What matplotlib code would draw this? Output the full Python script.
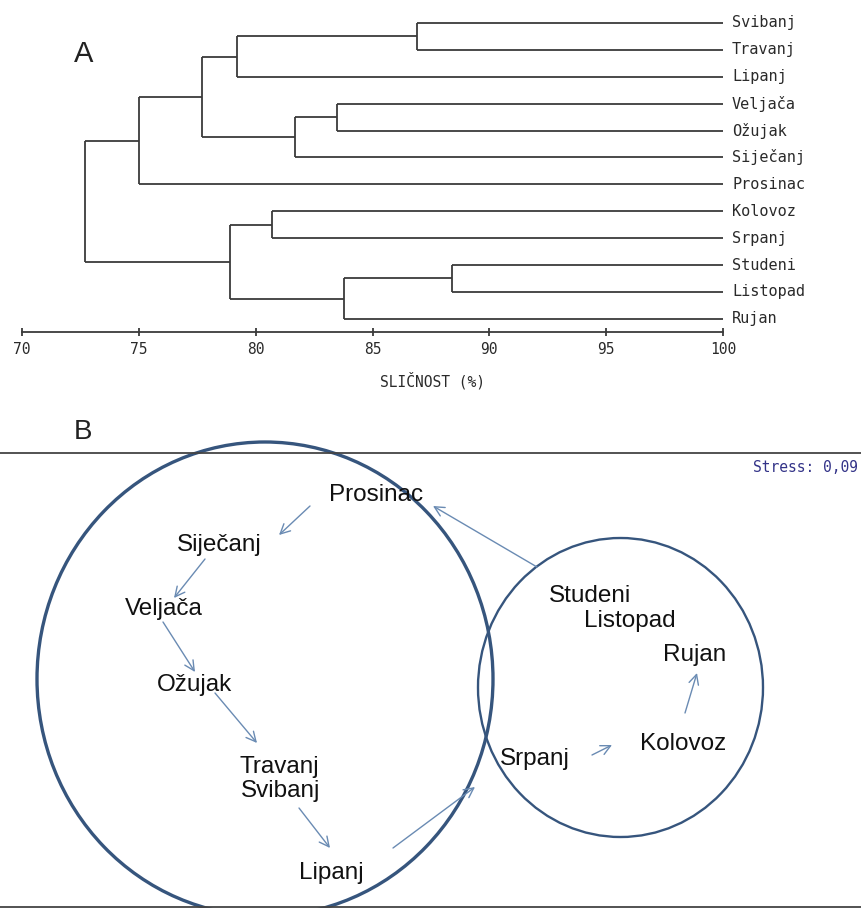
"""Dendrogram (A) and MDS ordination (B) of monthly samples."""

import matplotlib
matplotlib.use("Agg")
import matplotlib.pyplot as plt
from matplotlib.patches import Ellipse

# --- panel A: dendrogram (similarity %) ---
leaves = ["Svibanj", "Travanj", "Lipanj", "Veljača", "Ožujak", "Siječanj",
          "Prosinac", "Kolovoz", "Srpanj", "Studeni", "Listopad", "Rujan"]
# merges: node ids are leaf names or "m<k>" for the k-th merge
merge_a = ["Svibanj", "m0", "Veljača", "m2", "m1", "m4",
           "Kolovoz", "Studeni", "m7", "m6", "m5"]
merge_b = ["Travanj", "Lipanj", "Ožujak", "Siječanj", "m3", "Prosinac",
           "Srpanj", "Listopad", "Rujan", "m8", "m9"]
merge_sim = [86.9, 79.2, 83.5, 81.7, 77.7, 75.0, 80.7, 88.4, 83.8, 78.9, 72.7]
sim_ticks = [70, 75, 80, 85, 90, 95, 100]

# --- panel B: MDS coordinates ---
mds_labels = ["Prosinac", "Siječanj", "Veljača", "Ožujak", "Travanj", "Svibanj",
              "Lipanj", "Studeni", "Listopad", "Rujan", "Kolovoz", "Srpanj"]
mds_x = [-0.54, -2.11, -2.66, -2.36, -1.51, -1.49, -0.99, 1.60, 2.00, 2.65, 2.53, 1.05]
mds_y = [1.88, 1.37, 0.73, -0.03, -0.85, -1.08, -1.90, 0.87, 0.61, 0.27, -0.62, -0.76]
# seasonal trajectory arrows (start -> end)
arrow_x0 = [-1.20, -2.25, -2.67, -2.15, -1.31, -0.37, 1.62, 2.55, 1.07]
arrow_y0 = [1.74, 1.21, 0.58, -0.13, -1.28, -1.68, -0.75, -0.33, 1.13]
arrow_x1 = [-1.51, -2.56, -2.35, -1.73, -1.00, 0.45, 1.82, 2.67, 0.03]
arrow_y1 = [1.45, 0.82, 0.08, -0.63, -1.68, -1.07, -0.65, 0.07, 1.74]
# cluster ellipses: centre, width, height
group_cx = [-1.65, 1.905]
group_cy = [0.01, -0.075]
group_w = [4.56, 2.85]
group_h = [4.74, 2.99]
stress = "Stress: 0,09"

fig = plt.figure(figsize=(8.61, 9.08), dpi=100)

# ---------------- A ----------------
ax = fig.add_axes([22 / 861, (908 - 332) / 908, 701 / 861, 322 / 908])
line_kw = dict(color="#3a3a3a", lw=1.3, solid_capstyle="butt")

leaf_y = {name: i for i, name in enumerate(leaves)}
node_y = dict(leaf_y)
node_h = {name: 100.0 for name in leaves}
for k, (a, b, h) in enumerate(zip(merge_a, merge_b, merge_sim)):
    ya, yb = node_y[a], node_y[b]
    ax.plot([h, h], [ya, yb], **line_kw)
    ax.plot([h, node_h[a]], [ya, ya], **line_kw)
    ax.plot([h, node_h[b]], [yb, yb], **line_kw)
    node_y[f"m{k}"] = (ya + yb) / 2
    node_h[f"m{k}"] = h

for name, y in leaf_y.items():
    ax.annotate(name, (100, y), xytext=(6.5, 0), textcoords="offset points",
                va="center", ha="left", fontsize=11, family="DejaVu Sans Mono",
                color="#2a2a2a", annotation_clip=False)

ax.set_xlim(70, 100)
ax.set_ylim(11.49, -0.48)
for s in ["top", "left", "right"]:
    ax.spines[s].set_visible(False)
ax.spines["bottom"].set_color("#3a3a3a")
ax.spines["bottom"].set_linewidth(1.3)
ax.set_yticks([])
ax.set_xticks(sim_ticks)
ax.tick_params(axis="x", direction="inout", length=6, width=1.3, color="#3a3a3a",
               pad=4, labelsize=10.5, labelcolor="#2a2a2a")
for lab in ax.get_xticklabels():
    lab.set_family("DejaVu Sans Mono")
fig.text(432 / 861, 1 - 381 / 908, "SLIČNOST (%)", ha="center", va="center",
         fontsize=10.5, family="DejaVu Sans Mono", color="#2a2a2a")
fig.text(84 / 861, 1 - 54 / 908, "A", ha="center", va="center",
         fontsize=21, family="Liberation Sans", color="#222222")

# ---------------- B ----------------
bx = fig.add_axes([0, (908 - 907) / 908, 1, 454 / 908])
bx.set_xlim(-4.30, 4.31)
bx.set_ylim(-2.27, 2.27)
bx.set_xticks([])
bx.set_yticks([])
for s in ["left", "right"]:
    bx.spines[s].set_visible(False)
for s in ["top", "bottom"]:
    bx.spines[s].set_color("#444444")
    bx.spines[s].set_linewidth(1.3)

for cx, cy, w, h, lw in zip(group_cx, group_cy, group_w, group_h, [2.4, 1.7]):
    bx.add_patch(Ellipse((cx, cy), w, h, fill=False, ec="#36557d", lw=lw,
                         clip_on=False))

for x0, y0, x1, y1 in zip(arrow_x0, arrow_y0, arrow_x1, arrow_y1):
    bx.annotate("", xy=(x1, y1), xytext=(x0, y0),
                arrowprops=dict(arrowstyle="->,head_length=0.7,head_width=0.35",
                                color="#6a8bb3", lw=1.0, shrinkA=0, shrinkB=0))

for name, x, y in zip(mds_labels, mds_x, mds_y):
    bx.text(x, y, name, ha="center", va="center_baseline", fontsize=17.5,
            family="Liberation Sans", color="#111111")

bx.text(4.28, 2.13, stress, ha="right", va="center", fontsize=10.5,
        family="DejaVu Sans Mono", color="#333388")
fig.text(83 / 861, 1 - 432 / 908, "B", ha="center", va="center",
         fontsize=20, family="Liberation Sans", color="#222222")

fig.savefig("out.png", dpi=100)
plt.close(fig)
